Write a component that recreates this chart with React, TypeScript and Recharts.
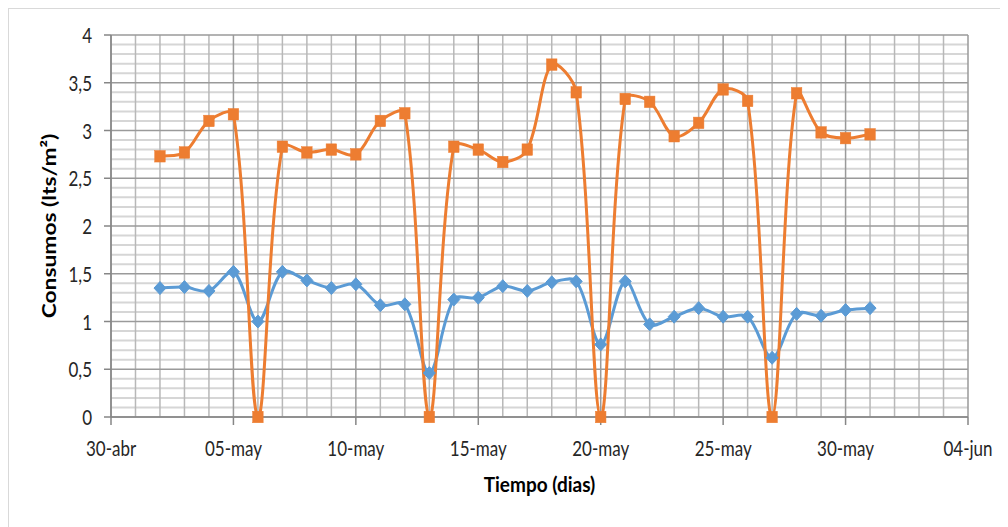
import React from 'react';
import { LineChart, Line, XAxis, YAxis, CartesianGrid, Label } from 'recharts';

// Days counted from 30-abr (day 0); measurements run from 02-may to 31-may.
const measurementDays = [
  2, 3, 4, 5, 6, 7, 8, 9, 10, 11, 12, 13, 14, 15, 16,
  17, 18, 19, 20, 21, 22, 23, 24, 25, 26, 27, 28, 29, 30, 31,
];

// Lower consumption series (blue, diamonds)
const consumoSerie1 = [
  1.35, 1.36, 1.32, 1.52, 1.0, 1.52, 1.43, 1.35, 1.39, 1.17, 1.18, 0.46, 1.23, 1.25, 1.37,
  1.32, 1.41, 1.42, 0.76, 1.42, 0.97, 1.05, 1.14, 1.05, 1.05, 0.62, 1.08, 1.06, 1.12, 1.14,
];

// Upper consumption series (orange, squares)
const consumoSerie2 = [
  2.73, 2.77, 3.1, 3.17, 0, 2.83, 2.77, 2.8, 2.75, 3.1, 3.18, 0, 2.83, 2.8, 2.67,
  2.8, 3.69, 3.4, 0, 3.33, 3.3, 2.94, 3.08, 3.43, 3.31, 0, 3.39, 2.98, 2.92, 2.96,
];

const xTickDays = [0, 5, 10, 15, 20, 25, 30, 35];
const xTickLabels = ['30-abr', '05-may', '10-may', '15-may', '20-may', '25-may', '30-may', '04-jun'];
const yTicks = [0, 0.5, 1, 1.5, 2, 2.5, 3, 3.5, 4];

const data = measurementDays.map((day, i) => ({
  day,
  serie1: consumoSerie1[i],
  serie2: consumoSerie2[i],
}));

// Grid line positions: one vertical line per day, a horizontal line every 0.1
const dailyLines = Array.from({ length: 36 }, (_, i) => i).filter((d) => d % 5 !== 0);
const minorYLines = Array.from({ length: 41 }, (_, i) => i / 10).filter((_, i) => i % 5 !== 0);

const FONT = 'Lato, "Liberation Sans", sans-serif';
const TEXT_STRETCH = 1.2;

// Smooth curve with chord-weighted tangents (limits overshoot near sharp drops)
const smoothCurve = (context: any) => {
  let xs: number[] = [];
  let ys: number[] = [];
  return {
    areaStart() {},
    areaEnd() {},
    lineStart() {
      xs = [];
      ys = [];
    },
    point(x: number, y: number) {
      xs.push(+x);
      ys.push(+y);
    },
    lineEnd() {
      const n = xs.length;
      if (!n) return;
      context.moveTo(xs[0], ys[0]);
      const k = 1 / 3;
      for (let i = 0; i < n - 1; i++) {
        const i0 = Math.max(i - 1, 0);
        const i3 = Math.min(i + 2, n - 1);
        const x0 = xs[i0], y0 = ys[i0];
        const x1 = xs[i], y1 = ys[i];
        const x2 = xs[i + 1], y2 = ys[i + 1];
        const x3 = xs[i3], y3 = ys[i3];
        const d01 = Math.hypot(x1 - x0, y1 - y0);
        const d12 = Math.hypot(x2 - x1, y2 - y1);
        const d23 = Math.hypot(x3 - x2, y3 - y2);
        const r1 = d01 + d12 > 0 ? d12 / (d01 + d12) : 0;
        const r2 = d12 + d23 > 0 ? d12 / (d12 + d23) : 0;
        context.bezierCurveTo(
          x1 + (x2 - x0) * r1 * k,
          y1 + (y2 - y0) * r1 * k,
          x2 - (x3 - x1) * r2 * k,
          y2 - (y3 - y1) * r2 * k,
          x2,
          y2
        );
      }
    },
  };
};

const Diamond = (props: any) => {
  const { cx, cy, index } = props;
  if (cx == null || cy == null) return <g key={`d-${index}`} />;
  const rx = 6;
  const ry = 6.5;
  return (
    <path
      key={`d-${index}`}
      d={`M${cx},${cy - ry}L${cx + rx},${cy}L${cx},${cy + ry}L${cx - rx},${cy}Z`}
      fill="#5B9BD5"
      stroke="#5B9BD5"
      strokeWidth={1}
    />
  );
};

const Square = (props: any) => {
  const { cx, cy, index } = props;
  if (cx == null || cy == null) return <g key={`s-${index}`} />;
  const w = 10.5;
  const h = 11.5;
  return (
    <rect
      key={`s-${index}`}
      x={cx - w / 2}
      y={cy - h / 2}
      width={w}
      height={h}
      fill="#ED7D31"
      stroke="#ED7D31"
      strokeWidth={0.5}
    />
  );
};

const XTick = (props: any) => {
  const { x, y, payload } = props;
  const label = xTickLabels[xTickDays.indexOf(payload.value)] ?? '';
  return (
    <g transform={`translate(${x},${y}) scale(1,${TEXT_STRETCH})`}>
      <text
        x={0}
        y={0}
        textAnchor="middle"
        dominantBaseline="central"
        fontFamily={FONT}
        fontSize={17}
        fill="#262626"
      >
        {label}
      </text>
    </g>
  );
};

const YTick = (props: any) => {
  const { x, y, payload } = props;
  return (
    <g transform={`translate(${x},${y}) scale(1,${TEXT_STRETCH})`}>
      <text
        x={0}
        y={0}
        textAnchor="end"
        dominantBaseline="central"
        fontFamily={FONT}
        fontSize={17}
        fill="#262626"
      >
        {String(payload.value).replace('.', ',')}
      </text>
    </g>
  );
};

export default function App() {
  return (
    <div
      style={{
        width: 999,
        height: 518,
        borderLeft: '1px solid #d9d9d9',
        borderTop: '1px solid #d9d9d9',
        background: '#fff',
      }}
    >
      <LineChart
        width={999}
        height={518}
        data={data}
        margin={{ top: 26, right: 40, bottom: 50, left: 0 }}
      >
        <CartesianGrid
          horizontalValues={minorYLines}
          vertical={false}
          stroke="#d6d6d6"
          strokeWidth={2}
        />
        <CartesianGrid
          verticalValues={dailyLines}
          horizontal={false}
          stroke="#b8b8b8"
          strokeWidth={1.5}
        />
        <CartesianGrid
          horizontalValues={yTicks}
          verticalValues={xTickDays}
          stroke="#9a9a9a"
          strokeWidth={1.5}
        />
        <XAxis
          type="number"
          dataKey="day"
          domain={[0, 35]}
          ticks={xTickDays}
          interval={0}
          height={60}
          tickSize={8}
          tickMargin={23}
          axisLine={{ stroke: '#868686', strokeWidth: 1.5 }}
          tickLine={{ stroke: '#868686', strokeWidth: 1.5 }}
          tick={XTick}
        >
          <Label
            content={({ viewBox }: any) => {
              const cx = viewBox.x + viewBox.width / 2;
              const cy = 475;
              return (
                <g transform={`translate(${cx},${cy}) scale(1,1.05)`}>
                  <text
                    x={0}
                    y={0}
                    textAnchor="middle"
                    dominantBaseline="central"
                    fontFamily={FONT}
                    fontSize={19}
                    fontWeight="bold"
                    fill="#000"
                  >
                    Tiempo (dias)
                  </text>
                </g>
              );
            }}
          />
        </XAxis>
        <YAxis
          type="number"
          domain={[0, 4]}
          ticks={yTicks}
          interval={0}
          width={102}
          tickSize={7}
          tickMargin={12}
          axisLine={{ stroke: '#868686', strokeWidth: 1.5 }}
          tickLine={{ stroke: '#868686', strokeWidth: 1.5 }}
          tick={YTick}
        >
          <Label
            content={({ viewBox }: any) => {
              const cx = 39;
              const cy = viewBox.y + viewBox.height / 2;
              return (
                <g transform={`translate(${cx},${cy}) rotate(-90) scale(${TEXT_STRETCH},1)`}>
                  <text
                    x={0}
                    y={0}
                    textAnchor="middle"
                    dominantBaseline="central"
                    fontFamily={FONT}
                    fontSize={19}
                    fontWeight="bold"
                    fill="#000"
                  >
                    Consumos (lts/m²)
                  </text>
                </g>
              );
            }}
          />
        </YAxis>
        <Line
          dataKey="serie1"
          type={smoothCurve as any}
          stroke="#5B9BD5"
          strokeWidth={3}
          dot={Diamond}
          activeDot={false}
          isAnimationActive={false}
        />
        <Line
          dataKey="serie2"
          type={smoothCurve as any}
          stroke="#ED7D31"
          strokeWidth={3}
          dot={Square}
          activeDot={false}
          isAnimationActive={false}
        />
      </LineChart>
    </div>
  );
}
